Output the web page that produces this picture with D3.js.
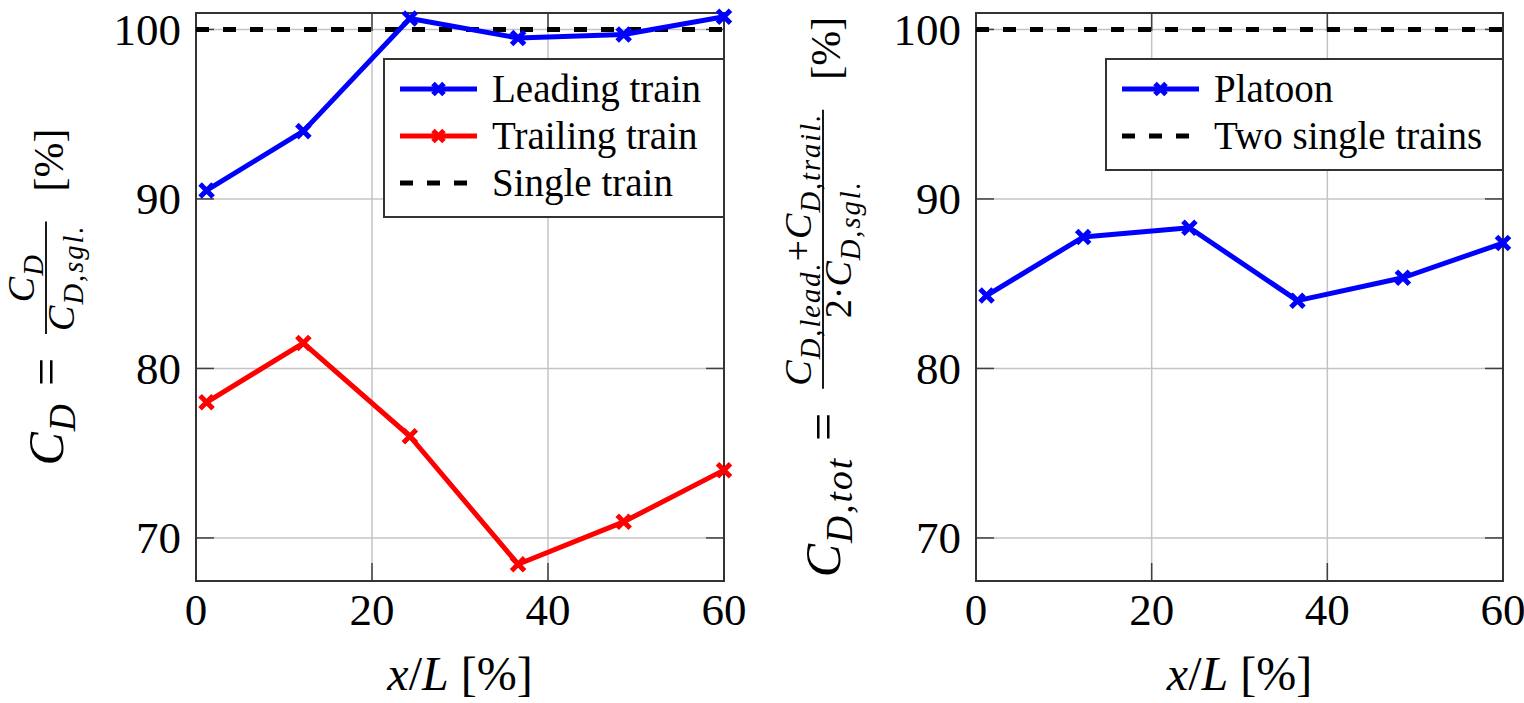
<!DOCTYPE html>
<html>
<head>
<meta charset="utf-8">
<script src="https://cdn.jsdelivr.net/npm/d3@7"></script>
<style>
  body { margin: 0; background: #fff; }
  text { font-family: "Liberation Serif", "Times New Roman", serif; fill: #000; }
</style>
</head>
<body>
<svg id="chart" width="1524" height="703"></svg>
<script>
// data
var xPos = [1.2, 12.2, 24.3, 36.6, 48.6, 60];
var leading = [90.5, 94.0, 100.65, 99.5, 99.7, 100.75];
var trailing = [78.0, 81.5, 76.0, 68.45, 70.95, 74.0];
var platoon = [84.3, 87.75, 88.3, 84.0, 85.35, 87.4];
var reference = 100;
var xTicks = [0, 20, 40, 60];
var yTicks = [70, 80, 90, 100];

var svg = d3.select("#chart");
var plotTop = 13, plotBottom = 581;
var y = d3.scaleLinear().domain([67.46, 100.97]).range([plotBottom, plotTop]);

var panels = [
  { x0: 196, x1: 724 },
  { x0: 976, x1: 1503 }
];
panels.forEach(function (p) {
  p.x = d3.scaleLinear().domain([0, 60]).range([p.x0, p.x1]);
});

var lineGen = d3.line();

function cross(s) {
  return "M" + -s + "," + -s + "L" + s + "," + s + "M" + -s + "," + s + "L" + s + "," + -s;
}

function drawFrame(p) {
  var g = svg.append("g");
  // grid
  g.selectAll(".gx").data(xTicks).enter().append("line")
    .attr("x1", p.x).attr("x2", p.x)
    .attr("y1", plotTop).attr("y2", plotBottom)
    .attr("stroke", "#c4c4c4").attr("stroke-width", 1.5);
  g.selectAll(".gy").data(yTicks).enter().append("line")
    .attr("x1", p.x0).attr("x2", p.x1)
    .attr("y1", y).attr("y2", y)
    .attr("stroke", "#c4c4c4").attr("stroke-width", 1.5);
  // inner ticks on all four sides
  var tl = 18;
  xTicks.forEach(function (v) {
    g.append("line").attr("x1", p.x(v)).attr("x2", p.x(v)).attr("y1", plotBottom).attr("y2", plotBottom - tl)
      .attr("stroke", "#404040").attr("stroke-width", 1.5);
    g.append("line").attr("x1", p.x(v)).attr("x2", p.x(v)).attr("y1", plotTop).attr("y2", plotTop + tl)
      .attr("stroke", "#404040").attr("stroke-width", 1.5);
  });
  yTicks.forEach(function (v) {
    g.append("line").attr("x1", p.x0).attr("x2", p.x0 + tl).attr("y1", y(v)).attr("y2", y(v))
      .attr("stroke", "#404040").attr("stroke-width", 1.5);
    g.append("line").attr("x1", p.x1).attr("x2", p.x1 - tl).attr("y1", y(v)).attr("y2", y(v))
      .attr("stroke", "#404040").attr("stroke-width", 1.5);
  });
  g.append("rect").attr("x", p.x0).attr("y", plotTop)
    .attr("width", p.x1 - p.x0).attr("height", plotBottom - plotTop)
    .attr("fill", "none").attr("stroke", "#333").attr("stroke-width", 2);
  // tick labels
  g.selectAll(".tx").data(xTicks).enter().append("text")
    .attr("x", p.x).attr("y", 625)
    .attr("text-anchor", "middle").attr("font-size", 45)
    .text(function (d) { return d; });
  g.selectAll(".ty").data(yTicks).enter().append("text")
    .attr("x", p.x0 - 15).attr("y", y).attr("dy", "0.34em")
    .attr("text-anchor", "end").attr("font-size", 45)
    .text(function (d) { return d; });
  // x label
  var xl = g.append("text").attr("x", (p.x0 + p.x1) / 2).attr("y", 690)
    .attr("text-anchor", "middle").attr("font-size", 48);
  xl.append("tspan").style("font-style", "italic").text("x");
  xl.append("tspan").text("/");
  xl.append("tspan").style("font-style", "italic").text("L");
  xl.append("tspan").text(" [%]");
}

function drawRef(p) {
  svg.append("line")
    .attr("x1", p.x0).attr("x2", p.x1)
    .attr("y1", y(reference)).attr("y2", y(reference))
    .attr("stroke", "#000").attr("stroke-width", 5)
    .attr("stroke-dasharray", "13,14");
}

function drawSeries(p, values, color) {
  var pts = values.map(function (v, i) { return [p.x(xPos[i]), y(v)]; });
  var g = svg.append("g");
  g.append("path").attr("d", lineGen(pts))
    .attr("fill", "none").attr("stroke", color).attr("stroke-width", 5)
    .attr("stroke-linejoin", "round");
  g.selectAll("path.m").data(pts).enter().append("path")
    .attr("class", "m")
    .attr("transform", function (d) { return "translate(" + d[0] + "," + d[1] + ")"; })
    .attr("d", cross(6.5))
    .attr("stroke", color).attr("stroke-width", 5);
}

function drawLegend(bx, by, bw, bh, items) {
  var g = svg.append("g");
  g.append("rect").attr("x", bx).attr("y", by).attr("width", bw).attr("height", bh)
    .attr("fill", "#fff").attr("stroke", "#333").attr("stroke-width", 2);
  items.forEach(function (it, i) {
    var cy = by + 30 + i * 47;
    var ln = g.append("line").attr("x1", bx + 16).attr("x2", bx + 93)
      .attr("y1", cy).attr("y2", cy)
      .attr("stroke", it.color).attr("stroke-width", 5);
    if (it.dash) ln.attr("stroke-dasharray", "13,14");
    else g.append("path").attr("transform", "translate(" + (bx + 54.5) + "," + cy + ")")
      .attr("d", cross(5.5)).attr("stroke", it.color).attr("stroke-width", 5);
    g.append("text").attr("x", bx + 108).attr("y", cy).attr("dy", "0.33em")
      .attr("font-size", 39).text(it.label);
  });
}

// ---- rotated math labels ----
var M = 50, S = 38, SUB = 0.75;
function run(g, x, yy, str, size, italic, spacing) {
  var t = g.append("text").attr("x", x).attr("y", yy).attr("font-size", size)
    .style("font-style", italic ? "italic" : "normal")
    .style("letter-spacing", (spacing || 0) + "px").text(str);
  return x + t.node().getComputedTextLength();
}
function row(g, x, yy, spec, fs) {
  spec.forEach(function (s) {
    var sub = s[1].charAt(0) === "s";
    if (sub) x += 1;
    x = run(g, x, yy + (sub ? fs * 0.24 : 0), s[0], sub ? fs * SUB : fs,
      s[1].slice(-1) === "i", sub ? 2 : 0);
    if (s[0] === "+") x += 1;
  });
  return x;
}
function frac(g, x, num, den) {
  var gn = g.append("g"), gd = g.append("g");
  var wn = row(gn, 0, -0.58 * M, num, S);
  var wd = row(gd, 0, 0.22 * M, den, S);
  var w = Math.max(wn, wd) + 6;
  gn.attr("transform", "translate(" + (x + (w - wn) / 2) + ",0)");
  gd.attr("transform", "translate(" + (x + (w - wd) / 2) + ",0)");
  g.append("line").attr("x1", x).attr("x2", x + w)
    .attr("y1", -0.34 * M).attr("y2", -0.34 * M)
    .attr("stroke", "#000").attr("stroke-width", 1.8);
  return x + w;
}
function yLabel(baseX, main, num, den) {
  var outer = svg.append("g");
  var g = outer.append("g");
  var x = row(g, 0, 0, main, M);
  x = run(g, x + 16, 0, "=", M, false);
  x = frac(g, x + 24, num, den);
  x = run(g, x + 30, 0, "[%]", 42, false);
  var cy = (plotTop + plotBottom) / 2;
  outer.attr("transform", "translate(" + baseX + "," + (cy + x / 2) + ") rotate(-90)");
}

drawFrame(panels[0]);
drawFrame(panels[1]);
drawRef(panels[0]);
drawRef(panels[1]);
drawSeries(panels[0], leading, "#0000ff");
drawSeries(panels[0], trailing, "#ff0000");
drawSeries(panels[1], platoon, "#0000ff");

drawLegend(384, 59, 340, 158, [
  { label: "Leading train", color: "#0000ff" },
  { label: "Trailing train", color: "#ff0000" },
  { label: "Single train", color: "#000", dash: true }
]);
drawLegend(1106, 59, 397, 111, [
  { label: "Platoon", color: "#0000ff" },
  { label: "Two single trains", color: "#000", dash: true }
]);

yLabel(63, [["C", "i"], ["D", "si"]],
  [["C", "i"], ["D", "si"]],
  [["C", "i"], ["D,sgl.", "si"]]);
yLabel(840, [["C", "i"], ["D,tot", "si"]],
  [["C", "i"], ["D,lead.", "si"], ["+", "r"], ["C", "i"], ["D,trail.", "si"]],
  [["2·", "r"], ["C", "i"], ["D,sgl.", "si"]]);
</script>
</body>
</html>
